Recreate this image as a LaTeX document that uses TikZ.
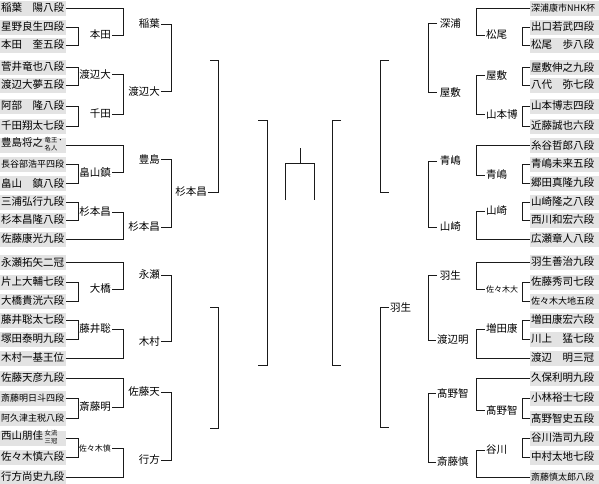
\documentclass[tikz,border=0pt]{standalone}
\usepackage{fontspec}
\setmainfont{Noto Sans CJK JP}
\usepackage{tikz}
\usetikzlibrary{calc}
\usepackage{xcolor}
\definecolor{boxgray}{HTML}{E3E3E3}
\definecolor{linegray}{HTML}{1A1A1A}
\newcommand{\sm}[1]{{\fontsize{9}{10}\selectfont #1}}
\newcommand{\stk}[2]{\hspace{1.5pt}{\fontsize{6.3}{7.2}\selectfont\begin{tabular}{@{}l@{}}#1\\#2\end{tabular}}}
\newcommand{\bkt}[3]{\draw[bline] (#1) -- (#1 -| #3) -- (#2 -| #3) -- (#2);}

\begin{document}
\begin{tikzpicture}[x=1pt, y=-1pt, font=\fontsize{10.5}{12}\selectfont,
    bline/.style={draw=linegray, line width=0.9pt},
    player/.style={fill=boxgray, text width=64pt, inner xsep=1pt, inner ysep=0pt,
                   minimum height=15pt, align=left, anchor=west},
    rplayer/.style={player, text width=67pt},
    lbl/.style={inner sep=1pt}]
    \useasboundingbox (0,0) rectangle (599,483);

    % column positions
    \coordinate (ca) at (78,0);  \coordinate (cb) at (123,0);
    \coordinate (cc) at (171,0); \coordinate (cd) at (218,0);
    \coordinate (ce) at (267,0);
    \coordinate (da) at (522,0); \coordinate (db) at (476,0);
    \coordinate (dc) at (428,0); \coordinate (dd) at (380,0);
    \coordinate (de) at (332,0);

    % players, left
    \foreach \y/\t [count=\i from 0] in {
        8/稲葉　陽八段, 27/星野良生四段, 45/本田　奎五段, 67/菅井竜也八段,
        85/渡辺大夢五段, 106/阿部　隆八段, 126/千田翔太七段,
        145/豊島将之\stk{竜王・}{名人}, 164/\sm{長谷部浩平四段}, 183/畠山　鎮八段,
        202/三浦弘行九段, 220/杉本昌隆八段, 239/佐藤康光九段,
        262/永瀬拓矢二冠, 282/片上大輔七段, 301/大橋貴洸六段, 320/藤井聡太七段,
        339/塚田泰明九段, 358/木村一基王位,
        378/佐藤天彦九段, 398/\sm{斎藤明日斗四段}, 418/\sm{阿久津主税八段},
        438/西山朋佳\stk{女流}{三冠}, 457/佐々木慎六段, 477/行方尚史九段}
      \node[player] (L\i) at (0,\y) {\t};

    % players, right
    \foreach \y/\t [count=\i from 0] in {
        8/\sm{深浦康市NHK杯}, 27/出口若武四段, 45/松尾　歩八段, 67/屋敷伸之九段,
        85/八代　弥七段, 106/山本博志四段, 126/近藤誠也六段,
        145/糸谷哲郎八段, 164/青嶋未来五段, 183/郷田真隆九段,
        202/山崎隆之八段, 220/西川和宏六段, 239/広瀬章人八段,
        262/羽生善治九段, 282/佐藤秀司七段, 301/\sm{佐々木大地五段}, 320/増田康宏六段,
        339/川上　猛七段, 358/渡辺　明三冠,
        378/久保利明九段, 398/小林裕士七段, 418/髙野智史五段,
        438/谷川浩司九段, 457/中村太地七段, 477/\sm{斎藤慎太郎八段}}
      \node[rplayer] (R\i) at (530,\y) {\t};

    % left half
    \node[lbl, anchor=east] (la1) at (112,35) {本田};
    \node[lbl, anchor=east] (la2) at (112,74) {渡辺大};
    \node[lbl, anchor=east] (la3) at (112,114) {千田};
    \node[lbl, anchor=east] (la4) at (112,172) {畠山鎮};
    \node[lbl, anchor=east] (la5) at (112,212) {杉本昌};
    \node[lbl, anchor=east] (la6) at (112,289) {大橋};
    \node[lbl, anchor=east] (la7) at (112,329) {藤井聡};
    \node[lbl, anchor=east] (la8) at (112,407) {斎藤明};
    \node[lbl, anchor=east] (la9) at (112,448) {\fontsize{8}{9}\selectfont 佐々木慎};
    \node[lbl, anchor=east] (lb1) at (161,24) {稲葉};
    \node[lbl, anchor=east] (lb2) at (161,91) {渡辺大};
    \node[lbl, anchor=east] (lb3) at (161,159) {豊島};
    \node[lbl, anchor=east] (lb4) at (161,227) {杉本昌};
    \node[lbl, anchor=east] (lb5) at (161,275) {永瀬};
    \node[lbl, anchor=east] (lb6) at (161,341) {木村};
    \node[lbl, anchor=east] (lb7) at (161,392) {佐藤天};
    \node[lbl, anchor=east] (lb8) at (161,460) {行方};
    \coordinate (lc1) at (210,60);
    \node[lbl, anchor=east] (lc2) at (208,192) {杉本昌};
    \coordinate (lc3) at (210,307);
    \coordinate (lc4) at (210,428);
    \coordinate (ld1) at (258,120);
    \coordinate (ld2) at (258,365);

    \bkt{L1.east}{L2.east}{ca}   \bkt{L3.east}{L4.east}{ca}
    \bkt{L5.east}{L6.east}{ca}   \bkt{L8.east}{L9.east}{ca}
    \bkt{L10.east}{L11.east}{ca} \bkt{L14.east}{L15.east}{ca}
    \bkt{L16.east}{L17.east}{ca} \bkt{L20.east}{L21.east}{ca}
    \bkt{L22.east}{L23.east}{ca}
    \bkt{L0.east}{la1.east}{cb}  \bkt{la2.east}{la3.east}{cb}
    \bkt{L7.east}{la4.east}{cb}  \bkt{la5.east}{L12.east}{cb}
    \bkt{L13.east}{la6.east}{cb} \bkt{la7.east}{L18.east}{cb}
    \bkt{L19.east}{la8.east}{cb} \bkt{la9.east}{L24.east}{cb}
    \bkt{lb1.east}{lb2.east}{cc} \bkt{lb3.east}{lb4.east}{cc}
    \bkt{lb5.east}{lb6.east}{cc} \bkt{lb7.east}{lb8.east}{cc}
    \bkt{lc1}{lc2.east}{cd}      \bkt{lc3}{lc4}{cd}
    \bkt{ld1}{ld2}{ce}

    % right half
    \node[lbl, anchor=west] (ra1) at (485,35) {松尾};
    \node[lbl, anchor=west] (ra2) at (485,75) {屋敷};
    \node[lbl, anchor=west] (ra3) at (485,114) {山本博};
    \node[lbl, anchor=west] (ra4) at (485,175) {青嶋};
    \node[lbl, anchor=west] (ra5) at (485,211) {山崎};
    \node[lbl, anchor=west] (ra6) at (485,289) {\fontsize{8}{9}\selectfont 佐々木大};
    \node[lbl, anchor=west] (ra7) at (485,329) {増田康};
    \node[lbl, anchor=west] (ra8) at (485,410) {髙野智};
    \node[lbl, anchor=west] (ra9) at (485,450) {谷川};
    \node[lbl, anchor=west] (rb1) at (437,23) {\,深浦};
    \node[lbl, anchor=west] (rb2) at (437,92) {\,屋敷};
    \node[lbl, anchor=west] (rb3) at (437,161) {\,青嶋};
    \node[lbl, anchor=west] (rb4) at (437,227) {\,山崎};
    \node[lbl, anchor=west] (rb5) at (437,275) {\,羽生};
    \node[lbl, anchor=west] (rb6) at (436,340) {渡辺明};
    \node[lbl, anchor=west] (rb7) at (436,393) {髙野智};
    \node[lbl, anchor=west] (rb8) at (436,462) {斎藤慎};
    \coordinate (rc1) at (389,60);
    \coordinate (rc2) at (389,192);
    \node[lbl, anchor=west] (rc3) at (389,307) {羽生};
    \coordinate (rc4) at (389,427);
    \coordinate (rd1) at (341,120);
    \coordinate (rd2) at (341,365);

    \bkt{R1.west}{R2.west}{da}   \bkt{R3.west}{R4.west}{da}
    \bkt{R5.west}{R6.west}{da}   \bkt{R8.west}{R9.west}{da}
    \bkt{R10.west}{R11.west}{da} \bkt{R14.west}{R15.west}{da}
    \bkt{R16.west}{R17.west}{da} \bkt{R20.west}{R21.west}{da}
    \bkt{R22.west}{R23.west}{da}
    \bkt{R0.west}{ra1.west}{db}  \bkt{ra2.west}{ra3.west}{db}
    \bkt{R7.west}{ra4.west}{db}  \bkt{ra5.west}{R12.west}{db}
    \bkt{R13.west}{ra6.west}{db} \bkt{ra7.west}{R18.west}{db}
    \bkt{R19.west}{ra8.west}{db} \bkt{ra9.west}{R24.west}{db}
    \bkt{rb1.west}{rb2.west}{dc} \bkt{rb3.west}{rb4.west}{dc}
    \bkt{rb5.west}{rb6.west}{dc} \bkt{rb7.west}{rb8.west}{dc}
    \bkt{rc1}{rc2}{dd}           \bkt{rc3.west}{rc4}{dd}
    \bkt{rd1}{rd2}{de}

    % final
    \coordinate (fl) at (285,200); \coordinate (fr) at (314,200);
    \coordinate (ftop) at (300,148);
    \draw[bline] (fl) -- ++(0,-37) -| (fr);
    \draw[bline] (ftop) -- ++(0,15);
\end{tikzpicture}
\end{document}
